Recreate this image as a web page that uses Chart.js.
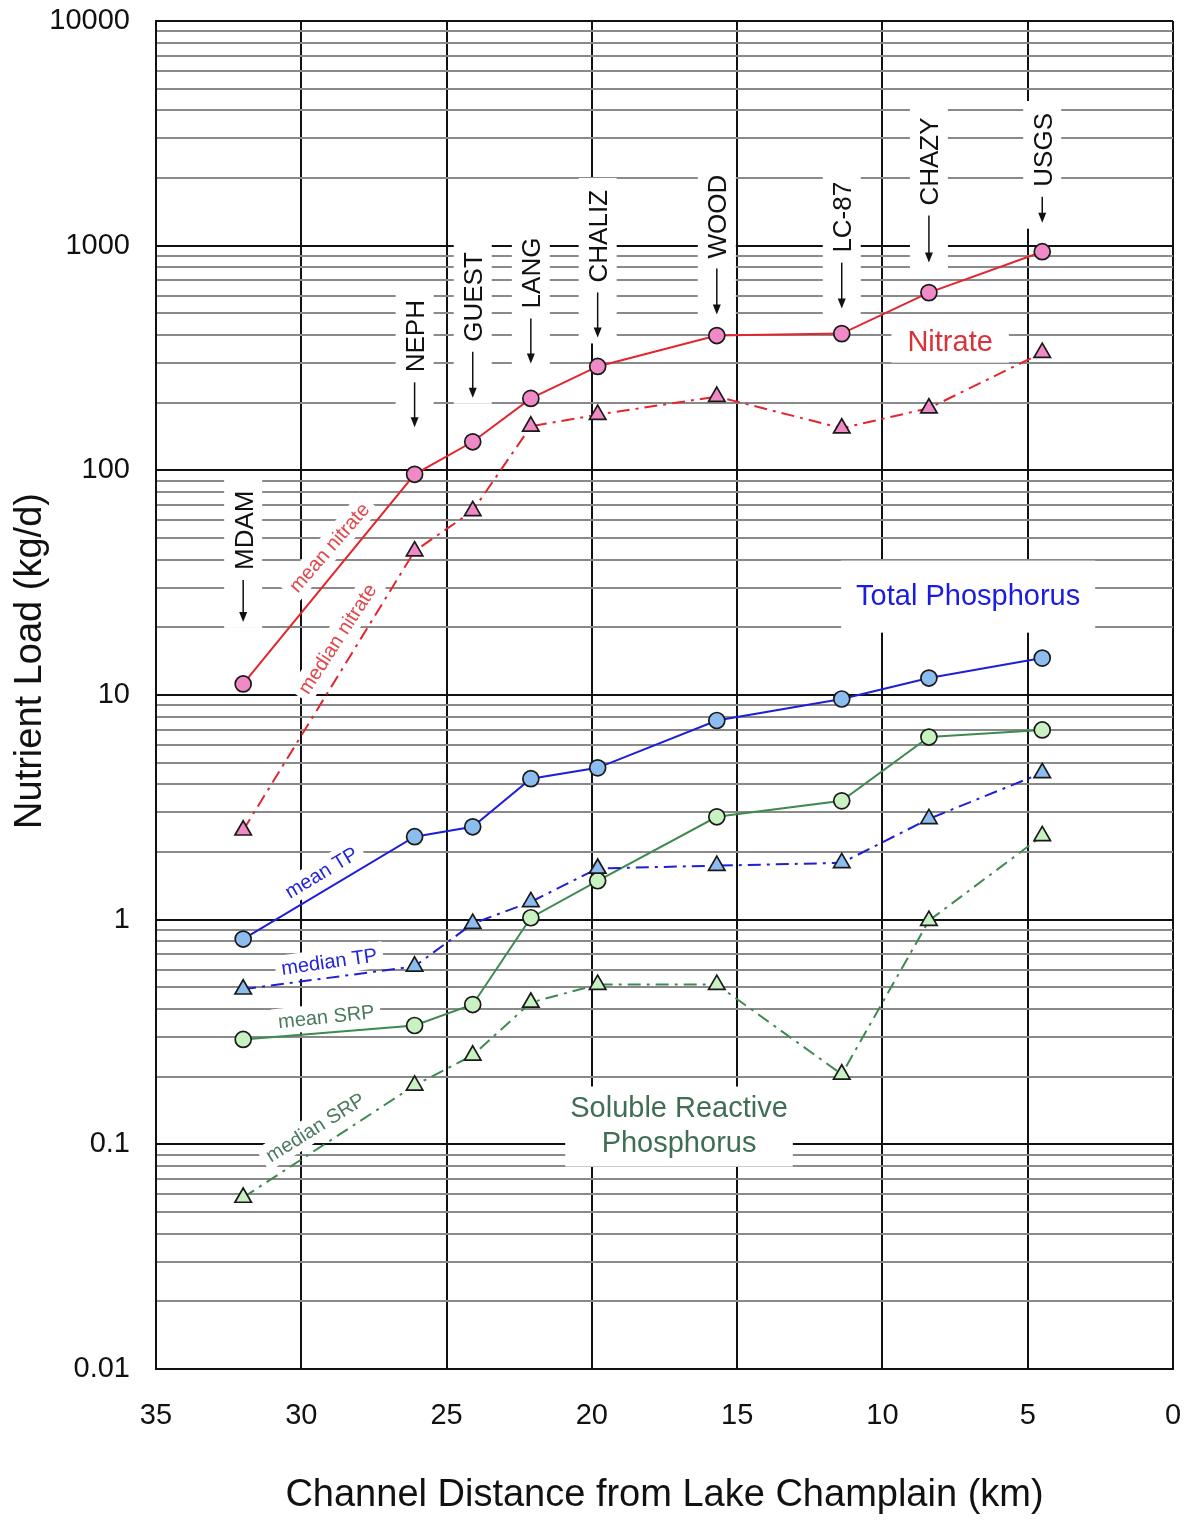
<!DOCTYPE html>
<html>
<head>
<meta charset="utf-8">
<script src="https://cdn.jsdelivr.net/npm/chart.js@4.4.1/dist/chart.umd.min.js"></script>
<style>
  html, body { margin: 0; padding: 0; background: #fff; }
</style>
</head>
<body>
<canvas id="myChart" width="1193" height="1522"></canvas>
<script>
/* globals Chart:false */
// stations along the channel, and loads (kg/d)
const stations = ['MDAM', 'NEPH', 'GUEST', 'LANG', 'CHALIZ', 'WOOD', 'LC-87', 'CHAZY', 'USGS']
const distanceKm = [32.0, 26.1, 24.1, 22.1, 19.8, 15.7, 11.4, 8.4, 4.5]
const meanNitrate = [11.2, 96, 134, 209, 290, 398, 406, 618, 940]
const medianNitrate = [2.5, 43.7, 66, 157, 177, 213, 154, 189, 334]
const meanTP = [0.82, 2.34, 2.59, 4.24, 4.74, 7.7, 9.6, 11.9, 14.6]
const medianTP = [0.49, 0.62, 0.96, 1.2, 1.69, 1.74, 1.79, 2.81, 4.5]
const meanSRP = [0.293, 0.338, 0.419, 1.02, 1.49, 2.87, 3.38, 6.5, 6.99]
const medianSRP = [0.058, 0.183, 0.249, 0.428, 0.514, 0.514, 0.205, 0.99, 2.36]
const yDecades = [0.01, 0.1, 1, 10, 100, 1000, 10000]
const xTicks = [35, 30, 25, 20, 15, 10, 5, 0]

const FONT = '"Liberation Sans", Arial, Helvetica, sans-serif'

// label layout (pixels between arrow tip and point, arrow length)
const stationGap = [62, 47, 44, 35, 29, 21, 25, 30, 29]
const stationArrow = [42, 45, 46, 45, 45, 46, 46, 47, 26]

// group titles
const groupLabels = [
  { lines: ['Nitrate'], km: 7.67, val: 370, color: '#d8323a', padX: 16, padY: 20 },
  { lines: ['Total Phosphorus'], km: 7.05, val: 27.4, color: '#1c1ce0', padX: 15, padY: 36 },
  { lines: ['Soluble Reactive', 'Phosphorus'], km: 17.0, val: 0.12, color: '#3f6e55', padX: 5, padY: 40 }
]

// series captions written along the lines
const seriesLabels = [
  { text: 'mean nitrate', km: 29.04, val: 45.3, angle: -49, color: '#e2474c' },
  { text: 'median nitrate', km: 28.76, val: 17.8, angle: -57, color: '#e2474c' },
  { text: 'mean TP', km: 29.31, val: 1.62, angle: -31, color: '#2424d8' },
  { text: 'median TP', km: 29.04, val: 0.65, angle: -8, color: '#2424d8' },
  { text: 'mean SRP', km: 29.14, val: 0.37, angle: -6, color: '#4b7a5e' },
  { text: 'median SRP', km: 29.52, val: 0.119, angle: -32, color: '#4b7a5e' }
]

const isDecade = (v) => Math.abs(Math.log10(v) - Math.round(Math.log10(v))) < 1e-6

const toPoints = (vals) => vals.map((v, i) => ({ x: distanceKm[i], y: v }))

const makeSeries = (label, vals, line, fill, median) => ({
  label: label,
  data: toPoints(vals),
  borderColor: line,
  borderWidth: 2,
  borderDash: median ? [13, 6, 3, 6] : [],
  backgroundColor: fill,
  pointStyle: median ? 'triangle' : 'circle',
  pointRadius: median ? 9.5 : 8,
  pointBackgroundColor: fill,
  pointBorderColor: '#1a1a1a',
  pointBorderWidth: 1.7,
  tension: 0,
  fill: false
})

const annotate = {
  id: 'annotate',
  beforeDatasetsDraw(chart) {
    const { ctx, scales: { x, y } } = chart
    ctx.save()

    // station labels with arrows
    ctx.font = '26px ' + FONT
    stations.forEach((name, i) => {
      const px = x.getPixelForValue(distanceKm[i])
      const py = y.getPixelForValue(meanNitrate[i])
      const tip = py - stationGap[i]
      const top = tip - stationArrow[i]
      const textBottom = top - 10
      const tw = ctx.measureText(name).width
      const textTop = textBottom - tw
      ctx.fillStyle = '#fff'
      ctx.fillRect(px - 19, textTop - 12, 38, tip + 6 - (textTop - 12))
      ctx.strokeStyle = '#111'
      ctx.lineWidth = 1.5
      ctx.beginPath()
      ctx.moveTo(px, top)
      ctx.lineTo(px, tip - 8)
      ctx.stroke()
      ctx.fillStyle = '#111'
      ctx.beginPath()
      ctx.moveTo(px - 4, tip - 10)
      ctx.lineTo(px + 4, tip - 10)
      ctx.lineTo(px, tip)
      ctx.closePath()
      ctx.fill()
      ctx.save()
      ctx.translate(px, textBottom)
      ctx.rotate(-Math.PI / 2)
      ctx.textAlign = 'left'
      ctx.textBaseline = 'alphabetic'
      ctx.fillText(name, 0, 9.5)
      ctx.restore()
    })

    // group titles
    ctx.font = '29px ' + FONT
    ctx.textAlign = 'center'
    ctx.textBaseline = 'middle'
    groupLabels.forEach((g) => {
      const cx = x.getPixelForValue(g.km)
      const cy = y.getPixelForValue(g.val)
      const w = Math.max(...g.lines.map((l) => ctx.measureText(l).width))
      ctx.fillStyle = '#fff'
      ctx.fillRect(cx - w / 2 - g.padX, cy - g.padY, w + 2 * g.padX, 2 * g.padY)
      ctx.fillStyle = g.color
      const step = 35
      g.lines.forEach((l, k) => {
        ctx.fillText(l, cx, cy + (k - (g.lines.length - 1) / 2) * step)
      })
    })

    // series captions
    ctx.font = '20px ' + FONT
    seriesLabels.forEach((s) => {
      const cx = x.getPixelForValue(s.km)
      const cy = y.getPixelForValue(s.val)
      const w = ctx.measureText(s.text).width
      ctx.save()
      ctx.translate(cx, cy)
      ctx.rotate(s.angle * Math.PI / 180)
      ctx.fillStyle = '#fff'
      ctx.fillRect(-w / 2 - 6, -13, w + 12, 26)
      ctx.fillStyle = s.color
      ctx.fillText(s.text, 0, 1)
      ctx.restore()
    })

    ctx.restore()
  },
  afterDraw(chart) {
    // y axis title, sits a bit above the plot centre in the figure
    const { ctx } = chart
    ctx.save()
    ctx.translate(31, 661)
    ctx.rotate(-Math.PI / 2)
    ctx.font = '38px ' + FONT
    ctx.fillStyle = '#111'
    ctx.textAlign = 'center'
    ctx.textBaseline = 'middle'
    ctx.fillText('Nutrient Load (kg/d)', 0, 0)
    ctx.restore()
  }
}

const ctx = document.getElementById('myChart')
const myChart = new Chart(ctx, {
  type: 'line',
  data: {
    datasets: [
      makeSeries('mean nitrate', meanNitrate, '#e3262d', '#f08ac6', false),
      makeSeries('median nitrate', medianNitrate, '#e3262d', '#f08ac6', true),
      makeSeries('mean TP', meanTP, '#1f1fd8', '#8cbdf0', false),
      makeSeries('median TP', medianTP, '#1f1fd8', '#8cbdf0', true),
      makeSeries('mean SRP', meanSRP, '#3f8a50', '#c9f2c2', false),
      makeSeries('median SRP', medianSRP, '#3f8a50', '#c9f2c2', true)
    ]
  },
  options: {
    responsive: false,
    animation: false,
    devicePixelRatio: 1,
    layout: { padding: { left: 0, right: 20, top: 21, bottom: 0 } },
    plugins: {
      legend: { display: false },
      tooltip: { enabled: false }
    },
    scales: {
      x: {
        type: 'linear',
        reverse: true,
        min: 0,
        max: 35,
        afterBuildTicks: (scale) => {
          scale.ticks = xTicks.map((v) => ({ value: v }))
        },
        afterFit: (scale) => {
          scale.height = 153
          scale.paddingLeft = 0
          scale.paddingRight = 0
        },
        ticks: {
          color: '#111',
          font: { family: FONT, size: 29 },
          padding: 30,
          autoSkip: false,
          maxRotation: 0
        },
        grid: { color: '#111', lineWidth: 2, drawTicks: false },
        border: { color: '#111', width: 2 },
        title: {
          display: true,
          text: 'Channel Distance from Lake Champlain (km)',
          color: '#111',
          font: { family: FONT, size: 38 },
          padding: { top: 0, bottom: 4 }
        }
      },
      y: {
        type: 'logarithmic',
        min: 0.01,
        max: 10000,
        afterBuildTicks: (scale) => {
          const ticks = []
          yDecades.forEach((d, i) => {
            if (i === yDecades.length - 1) {
              ticks.push({ value: d, major: true })
              return
            }
            for (let m = 1; m <= 9; m++) {
              ticks.push({ value: d * m, major: m === 1 })
            }
          })
          scale.ticks = ticks
        },
        afterFit: (scale) => {
          scale.width = 156
          scale.paddingTop = 0
          scale.paddingBottom = 0
        },
        ticks: {
          color: '#111',
          font: { family: FONT, size: 29 },
          padding: 26,
          autoSkip: false,
          callback: (value) => (isDecade(value) ? String(value) : '')
        },
        grid: {
          drawTicks: false,
          lineWidth: 2,
          color: (c) => (c.tick && isDecade(c.tick.value) ? '#111' : '#8a8a8a')
        },
        border: { color: '#111', width: 2 }
      }
    }
  },
  plugins: [annotate]
})
</script>
</body>
</html>
